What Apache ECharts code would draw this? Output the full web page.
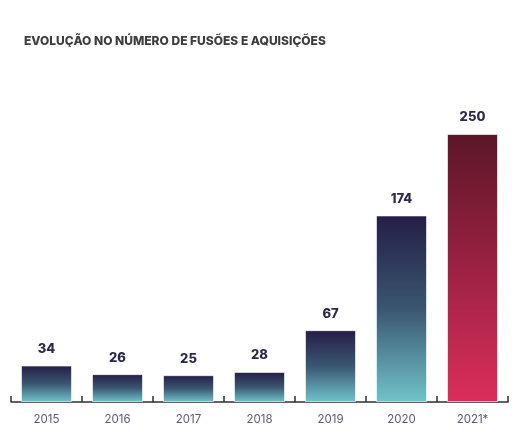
<!DOCTYPE html>
<html>
<head>
<meta charset="utf-8">
<script src="https://cdn.jsdelivr.net/npm/echarts@6/dist/echarts.min.js"></script>
<style>
  html, body { margin: 0; padding: 0; background: #fff; }
  #chart { width: 521px; height: 436px; }
</style>
</head>
<body>
<div id="chart"></div>
<script>
var anos = ['2015', '2016', '2017', '2018', '2019', '2020', '2021*'];
var operacoes = [34, 26, 25, 28, 67, 174, 250];

// gradiente azul escuro -> turquesa, e o ultimo ano em vinho -> rosa
function gradAzul() {
    return new echarts.graphic.LinearGradient(0, 0, 0, 1, [
        { offset: 0, color: '#241e47' },
        { offset: 0.5, color: '#3a5670' },
        { offset: 1, color: '#71c3ca' }
    ]);
}
function gradVinho() {
    return new echarts.graphic.LinearGradient(0, 0, 0, 1, [
        { offset: 0, color: '#5c1628' },
        { offset: 1, color: '#dc2e5c' }
    ]);
}

var myChart = echarts.init(document.getElementById('chart'));
var option = {
    backgroundColor: '#fff',
    animation: false,
    title: {
        text: 'EVOLUÇÃO NO NÚMERO DE FUSÕES E AQUISIÇÕES',
        left: 19,
        top: 30,
        textStyle: {
            color: '#3d3d3d',
            fontSize: 12,
            fontWeight: 800,
            fontFamily: 'Inter'
        }
    },
    grid: {
        left: 11,
        right: 13,
        top: 134,
        bottom: 34
    },
    xAxis: {
        type: 'category',
        data: anos,
        boundaryGap: true,
        axisLine: { show: true, lineStyle: { color: '#2f2f3a', width: 1.5 } },
        axisTick: {
            show: true,
            inside: true,
            alignWithLabel: false,
            interval: 0,
            length: 6,
            lineStyle: { color: '#2f2f3a', width: 1.5 }
        },
        axisLabel: {
            color: '#5b5a7a',
            fontSize: 11.5,
            fontFamily: 'Inter',
            margin: 12
        }
    },
    yAxis: {
        type: 'value',
        min: 0,
        max: 250,
        axisLine: { show: false },
        axisTick: { show: false },
        axisLabel: { show: false },
        splitLine: { show: false }
    },
    series: [{
        type: 'bar',
        barWidth: 51,
        data: operacoes.map(function (v, i) {
            return {
                value: v,
                itemStyle: { color: i === operacoes.length - 1 ? gradVinho() : gradAzul() }
            };
        }),
        itemStyle: { borderColor: 'rgba(255,255,255,0.6)', borderWidth: 1 },
        label: {
            show: true,
            position: 'top',
            distance: 10,
            color: '#2b2a4c',
            fontSize: 13,
            fontWeight: 800,
            fontFamily: 'Inter'
        }
    }]
};
myChart.setOption(option);
window.onresize = function () {
    myChart.resize();
};
</script>
</body>
</html>
